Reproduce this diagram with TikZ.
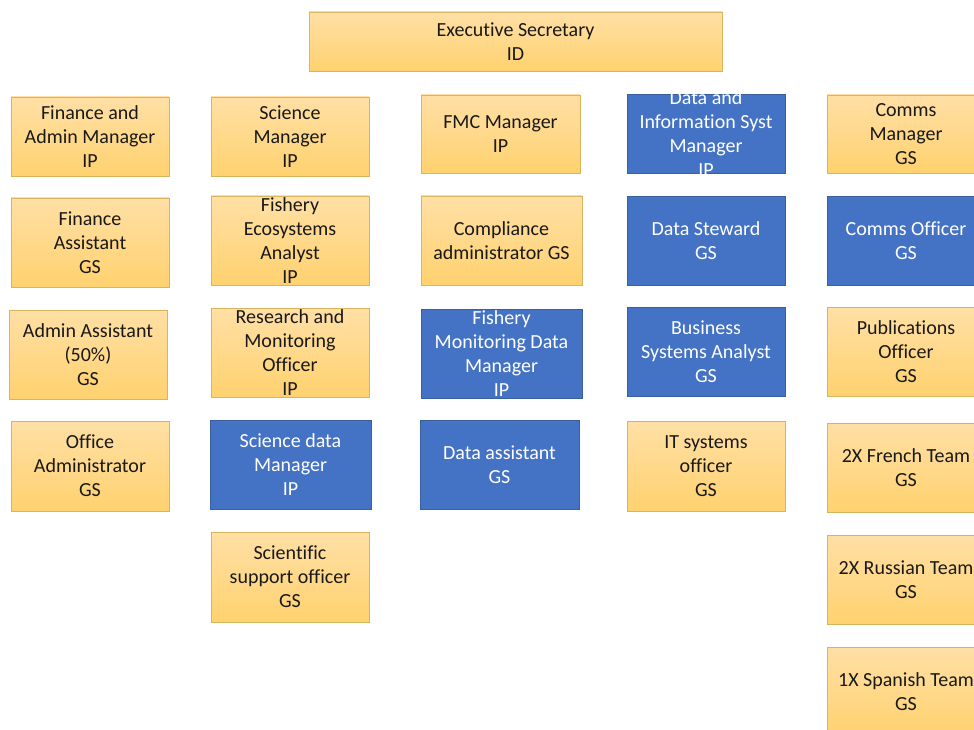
\documentclass[tikz,border=0pt]{standalone}
\usepackage{fontspec}
\setmainfont{Carlito}[RawFeature={-liga;-clig;-calt;-dlig}]
\usepackage{tikz}
\definecolor{goldtop}{HTML}{FFDFA5}
\definecolor{goldbot}{HTML}{FFD26F}
\definecolor{goldline}{HTML}{D8B45C}
\definecolor{bluefill}{HTML}{4472C4}
\definecolor{blueline}{HTML}{3A5F9E}

\begin{document}
\begin{tikzpicture}[x=1pt,y=-1pt]
\tikzstyle{box}=[rectangle,align=center,draw,inner xsep=2pt,inner ysep=0pt,minimum width=158,line width=0.6pt,font=\fontsize{20}{24}\selectfont]
\tikzstyle{goldbox}=[box,top color=goldtop,bottom color=goldbot,draw=goldline,text=black!90]
\tikzstyle{databox}=[box,fill=bluefill,draw=blueline,text=white]
\useasboundingbox (0,0) rectangle (974,730);
\clip (0,0) rectangle (974,730);
\node[goldbox,minimum width=413,minimum height=59] at(515.5,41.5) (es) {Executive Secretary\\ID};
% finance and admin
\node[goldbox,minimum height=79] at(90,136.5) (fam) {Finance and\\Admin Manager\\IP};
\node[goldbox,minimum height=89] at(90,242.5) (fa) {Finance\\Assistant\\GS};
\node[goldbox,minimum height=89] at(88,354.5) (aa) {Admin Assistant\\(50\%)\\GS};
\node[goldbox,minimum height=90] at(90,466) (oa) {Office\\Administrator\\GS};
% science
\node[goldbox,minimum height=79] at(290,136.5) (sm) {Science\\Manager\\IP};
\node[goldbox,minimum height=89] at(290,240.5) (fea) {Fishery\\Ecosystems\\Analyst\\IP};
\node[goldbox,minimum height=89] at(290,352.5) (rmo) {Research and\\Monitoring\\Officer\\IP};
\node[databox,minimum width=161,minimum height=89] at(290.5,464.5) (sdm) {Science data\\Manager\\IP};
\node[goldbox,minimum height=90] at(290,577) (sso) {Scientific\\support officer\\GS};
% fmc
\node[goldbox,minimum width=159,minimum height=78] at(500.5,134) (fmc) {FMC Manager\\IP};
\node[goldbox,minimum width=161,minimum height=89] at(501.5,240.5) (ca) {Compliance\\administrator GS};
\node[databox,minimum width=161,minimum height=89] at(501.5,353.5) (fmdm) {Fishery\\Monitoring Data\\Manager\\IP};
\node[databox,minimum width=159,minimum height=89] at(499.5,464.5) (da) {Data assistant\\GS};
% data and information systems
\node[databox,minimum height=79] at(706,133.5) (dism) {};
\node[text=white,align=center,inner sep=0pt,font=\fontsize{20}{24}\selectfont] at(dism.center) (dismtext) {Data and\\Information Syst\\Manager\\IP};
\node[databox,minimum height=89] at(706,240.5) (ds) {Data Steward\\GS};
\node[databox,minimum height=89] at(706,351.5) (bsa) {Business\\Systems Analyst\\GS};
\node[goldbox,minimum height=90] at(706,466) (itso) {IT systems\\officer\\GS};
% comms
\node[goldbox,minimum height=78] at(906,134) (cm) {Comms\\Manager\\GS};
\node[databox,minimum height=89] at(906,240.5) (co) {Comms Officer\\GS};
\node[goldbox,minimum height=89] at(906,351.5) (po) {Publications\\Officer\\GS};
\node[goldbox,minimum height=89] at(906,467.5) (fr) {2X French Team\\GS};
\node[goldbox,minimum height=89] at(906,579.5) (ru) {2X Russian Team\\GS};
\node[goldbox,minimum height=89] at(906,691.5) (sp) {1X Spanish Team\\GS};
\end{tikzpicture}
\end{document}
